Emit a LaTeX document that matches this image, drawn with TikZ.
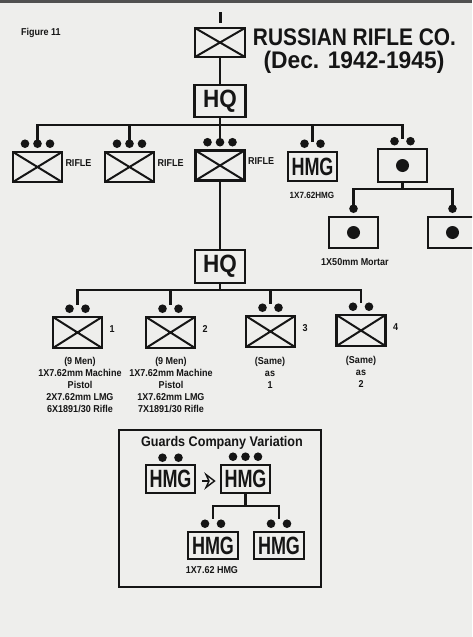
\documentclass[tikz,border=0pt]{standalone}
\usepackage{fontspec}
\setmainfont{Liberation Sans}
\newfontfamily\narA[FakeStretch=0.9]{Liberation Sans}
\newfontfamily\narB[FakeStretch=0.72]{Liberation Sans}
\usetikzlibrary{calc}
\definecolor{ink}{HTML}{151515}
\definecolor{paper}{HTML}{EEEEEC}
\newcommand\twodots[2][7pt]{\fill[ink] ([xshift=-8pt,yshift=#1]#2.north) circle (4.3pt) ([xshift=8pt,yshift=#1]#2.north) circle (4.3pt);}
\newcommand\threedots[2][7pt]{\fill[ink] ([xshift=-12.5pt,yshift=#1]#2.north) circle (4.3pt) ([yshift=#1]#2.north) circle (4.3pt) ([xshift=12.5pt,yshift=#1]#2.north) circle (4.3pt);}
\newcommand\onedot[2][7pt]{\fill[ink] ([yshift=#1]#2.north) circle (4.3pt);}
\tikzset{
  unitbox/.style={draw=ink, line width=2.6pt, minimum width=49pt, minimum height=30pt, inner sep=0pt, text=ink},
  inf/.style={unitbox, path picture={\draw[ink, line width=2pt]
      (path picture bounding box.north west) -- (path picture bounding box.south east)
      (path picture bounding box.south west) -- (path picture bounding box.north east);}},
  mortbox/.style={unitbox, path picture={\fill[ink] (path picture bounding box.center) circle (6.5pt);}},
  lbl/.style={text=ink, font=\narA\bfseries\fontsize{10}{12}\selectfont, inner sep=0pt, align=center},
  big/.style={font=\narA\bfseries\fontsize{25}{25}\selectfont},
  hmgtxt/.style={font=\narB\bfseries\fontsize{25}{25}\selectfont},
  conn/.style={draw=ink, line width=2.3pt},
}
\begin{document}
\begin{tikzpicture}[x=1pt, y=-1pt]
\fill[paper] (0,0) rectangle (472,637);
\useasboundingbox (0,0) rectangle (472,637);
\clip (0,0) rectangle (472,637);
\fill[ink!75] (0,0) rectangle (472,2.5);

% title
\node[lbl, anchor=west, font=\narA\bfseries\fontsize{10}{12}\selectfont] (fig) at (21,33) {Figure 11};
\node[text=ink, inner sep=0pt, font=\bfseries\fontsize{24}{24}\selectfont] (t1) at (354.5,37) {\scalebox{0.87}[1]{RUSSIAN RIFLE CO.}};
\node[text=ink, inner sep=0pt, font=\bfseries\fontsize{24}{24}\selectfont] (t2) at (354,62) {\scalebox{0.95}[1]{(Dec. 1942-1945)}};

% company
\node[inf, minimum width=50pt, minimum height=29pt] (co) at (220,42.5) {};
\draw[ink, line width=3pt] ([yshift=4pt]co.north) -- ([yshift=15pt]co.north);
\node[unitbox, big, minimum width=51pt, minimum height=32pt] (hq1) at (220,101) {HQ};
\draw[conn] (co) -- (hq1);

% first level
\node[inf] (r1) at (37.5,167) {};
\node[inf] (r2) at (129.5,167) {};
\node[inf] (r3) at (220,165.5) {};
\node[unitbox, hmgtxt, minimum height=29pt] (hmg) at (312.5,166.5) {HMG};
\node[mortbox, minimum height=33pt] (mort) at (402.5,165.5) {};
\threedots{r1}\threedots{r2}\threedots{r3}
\twodots{hmg}\twodots[6.5pt]{mort}
\foreach \n in {r1,r2,r3}{\node[lbl, anchor=west] (\n l) at ([xshift=2pt,yshift=4pt]\n.east) {RIFLE};}
\node[lbl, font=\narA\bfseries\fontsize{9}{11}\selectfont] (hmgl) at (312,195) {1X7.62HMG};

\coordinate (bus1) at (220,125);
\draw[conn] (hq1.south) -- (hq1.south |- bus1);
\draw[conn] ([yshift=11pt]r1.north) |- (bus1) -| ([yshift=9pt]mort.north);
\draw[conn] (bus1 -| r2) -- ([yshift=11pt]r2.north);
\draw[conn] (bus1 -| r3) -- ([yshift=11pt]r3.north);
\draw[conn] (bus1 -| hmg) -- ([yshift=9pt]hmg.north);

% mortars
\node[mortbox, minimum height=31pt] (m1) at (353.5,232.5) {};
\node[mortbox, minimum height=31pt] (m2) at (452.5,232.5) {};
\onedot{m1}\onedot{m2}
\coordinate (bus3) at (402,189);
\draw[conn] (mort.south) -- (mort.south |- bus3);
\draw[conn] ([yshift=11pt]m1.north) |- (bus3) -| ([yshift=11pt]m2.north);
\node[lbl] (ml) at (355,262) {1X50mm Mortar};

% platoon HQ
\node[unitbox, big, minimum width=50pt, minimum height=33pt] (hq2) at (220,266.5) {HQ};
\draw[conn] (r3.south) -- (r3.south |- hq2.north);

\node[inf, minimum height=31pt] (p1) at (77.5,332.5) {};
\node[inf, minimum height=31pt] (p2) at (170.5,332.5) {};
\node[inf, minimum height=31pt] (p3) at (270.5,331.5) {};
\node[inf, minimum height=31pt] (p4) at (361,330.5) {};
\foreach \n/\t in {p1/1,p2/2,p3/3,p4/4}{
  \twodots{\n}
  \node[lbl, anchor=west] (\n n) at ([xshift=6pt,yshift=3pt]\n.east) {\t};
}
\coordinate (bus2) at (220,290);
\draw[conn] (hq2.south) -- (hq2.south |- bus2);
\draw[conn] ([yshift=11pt]p1.north) |- (bus2) -| ([yshift=11pt]p4.north);
\draw[conn] (bus2 -| p2) -- ([yshift=11pt]p2.north);
\draw[conn] (bus2 -| p3) -- ([yshift=11pt]p3.north);

\node[lbl, anchor=north] (d1) at (80,357) {(9 Men)\\1X7.62mm Machine\\Pistol\\2X7.62mm LMG\\6X1891/30 Rifle};
\node[lbl, anchor=north] (d2) at (171,357) {(9 Men)\\1X7.62mm Machine\\Pistol\\1X7.62mm LMG\\7X1891/30 Rifle};
\node[lbl, anchor=north] (d3) at (270,357) {(Same)\\as\\1};
\node[lbl, anchor=north] (d4) at (361,356) {(Same)\\as\\2};

% guards variation
\node[draw=ink, line width=2.3pt, minimum width=202pt, minimum height=157pt, inner sep=0pt] (gframe) at (220,508.5) {};
\node[lbl, font=\narA\bfseries\fontsize{14}{16}\selectfont] (gt) at (222,443) {Guards Company Variation};
\node[unitbox, hmgtxt, minimum height=28pt] (g1) at (170.5,479) {HMG};
\node[unitbox, hmgtxt, minimum height=28pt] (g2) at (245.5,479) {HMG};
\draw[ink, line width=1.4pt] (202,481) -- (208.5,481);
\draw[ink, line width=1.4pt, line join=miter] (206,474.5) -- (214.5,481) -- (206,487.5) -- (209,481) -- cycle;
\twodots[6pt]{g1}\threedots{g2}
\node[unitbox, hmgtxt, minimum width=50pt, minimum height=27pt] (g3) at (213,545.5) {HMG};
\node[unitbox, hmgtxt, minimum width=50pt, minimum height=27pt] (g4) at (279,545.5) {HMG};
\twodots{g3}\twodots{g4}
\coordinate (bus4) at (245,506);
\draw[conn] (g2.south) -- (g2.south |- bus4);
\draw[conn] ([yshift=12pt]g3.north) |- (bus4) -| ([yshift=12pt]g4.north);
\node[lbl] (gl) at (212,570) {1X7.62 HMG};
\end{tikzpicture}
\end{document}
